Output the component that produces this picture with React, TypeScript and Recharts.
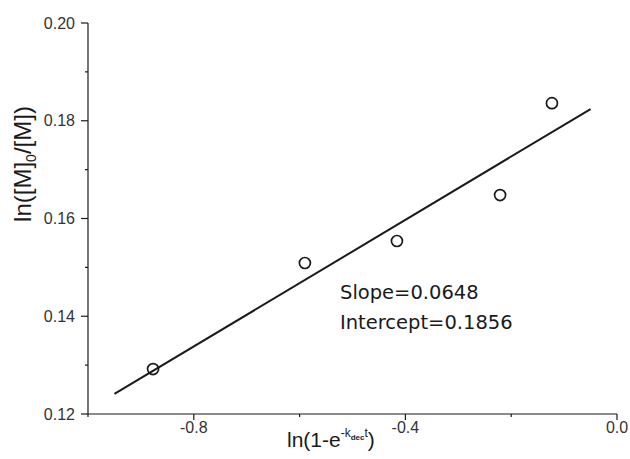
import React from 'react';
import {
  ScatterChart,
  Scatter,
  XAxis,
  YAxis,
  Customized,
} from 'recharts';

// measured points: ln(1 - e^(-k_dec t)) vs ln([M]0/[M])
const xValues = [-0.877, -0.59, -0.416, -0.221, -0.123];
const yValues = [0.1292, 0.1509, 0.1554, 0.1648, 0.1836];

// end points of the fitted line
const fitX = [-0.95, -0.05];
const fitY = [0.1241, 0.1824];

const xTicks = [-1.0, -0.8, -0.6, -0.4, -0.2, 0.0];
const xLabeled = [-0.8, -0.4, 0.0];
const yTicks = [0.12, 0.13, 0.14, 0.15, 0.16, 0.17, 0.18, 0.19, 0.2];
const yLabeled = [0.12, 0.14, 0.16, 0.18, 0.2];

const slopeText = 'Slope=0.0648';
const interceptText = 'Intercept=0.1856';

const points = xValues.map((x, i) => ({ x, y: yValues[i] }));
const fitLine = fitX.map((x, i) => ({ x, y: fitY[i] }));

const FONT = '"Liberation Sans", Arial, sans-serif';
const INK = '#1a1a1a';

function XTick(props: any) {
  const { x, y, payload } = props;
  const v = payload.value;
  const major = xLabeled.includes(v);
  return (
    <g>
      <line x1={x} x2={x} y1={y} y2={y + (major ? 6 : 3)} stroke={INK} strokeWidth={1.2} />
      {major && (
        <text x={x} y={y + 19} textAnchor="middle" fontSize={16} fontFamily={FONT} fill="#333">
          {v.toFixed(1)}
        </text>
      )}
    </g>
  );
}

function YTick(props: any) {
  const { x, y, payload } = props;
  const v = payload.value;
  const major = yLabeled.includes(v);
  return (
    <g>
      <line x1={x - (major ? 7 : 3)} x2={x} y1={y} y2={y} stroke={INK} strokeWidth={1.2} />
      {major && (
        <text x={x - 13} y={y + 5.5} textAnchor="end" fontSize={16} fontFamily={FONT} fill="#333">
          {v.toFixed(2)}
        </text>
      )}
    </g>
  );
}

function Ring(props: any) {
  const { cx, cy } = props;
  return <circle cx={cx} cy={cy} r={5.5} fill="none" stroke={INK} strokeWidth={1.7} />;
}

function Labels() {
  return (
    <g fontFamily={FONT} fill={INK}>
      <text x={287} y={447} fontSize={21}>
        ln(1-e
        <tspan dy={-10} fontSize={12}>-k</tspan>
        <tspan dy={3} fontSize={8} fontWeight="bold">dec</tspan>
        <tspan dy={-3} fontSize={12}>t</tspan>
        <tspan dy={10} fontSize={21}>)</tspan>
      </text>
      <text
        x={31}
        y={164}
        fontSize={24}
        textAnchor="middle"
        transform="rotate(-90 31 164)"
      >
        ln([M]
        <tspan dy={5} fontSize={14}>0</tspan>
        <tspan dy={-5} fontSize={24}>/[M])</tspan>
      </text>
      <text x={340} y={299} fontSize={19.5} fontFamily='"DejaVu Sans", sans-serif'>
        {slopeText}
      </text>
      <text x={340} y={329} fontSize={19.5} fontFamily='"DejaVu Sans", sans-serif'>
        {interceptText}
      </text>
    </g>
  );
}

export default function App() {
  return (
    <div style={{ position: 'absolute', left: 0, top: 0, background: '#fff' }}>
      <ScatterChart
        width={630}
        height={459}
        margin={{ top: 23, right: 13, bottom: 0, left: 0 }}
      >
        <XAxis
          type="number"
          dataKey="x"
          domain={[-1, 0]}
          ticks={xTicks}
          interval={0}
          height={45}
          tickSize={0}
          tickMargin={0}
          tickLine={false}
          tick={<XTick />}
          axisLine={{ stroke: INK, strokeWidth: 1.2 }}
          allowDataOverflow
        />
        <YAxis
          type="number"
          dataKey="y"
          domain={[0.12, 0.2]}
          ticks={yTicks}
          interval={0}
          width={88}
          tickSize={0}
          tickMargin={0}
          tickLine={false}
          tick={<YTick />}
          axisLine={{ stroke: INK, strokeWidth: 1.2 }}
          allowDataOverflow
        />
        <Scatter
          data={fitLine}
          line={{ stroke: INK, strokeWidth: 2 }}
          shape={() => null}
          isAnimationActive={false}
        />
        <Scatter data={points} shape={<Ring />} isAnimationActive={false} />
        <Customized component={Labels} />
      </ScatterChart>
    </div>
  );
}
